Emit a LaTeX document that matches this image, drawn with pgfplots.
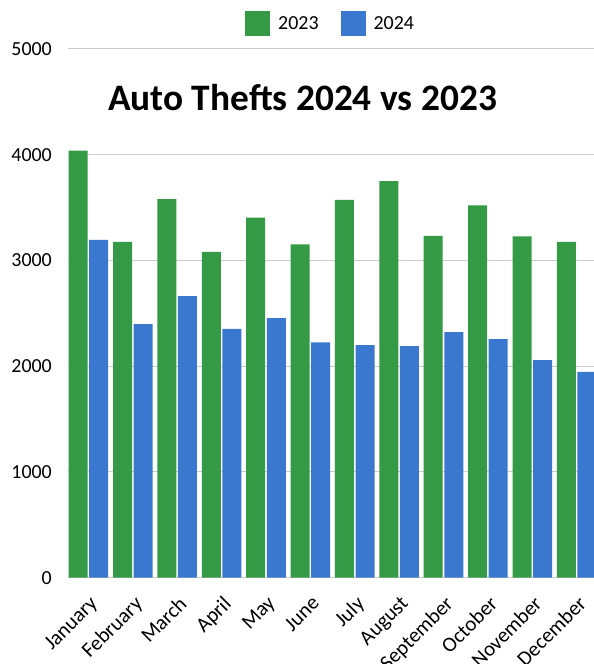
\documentclass[border=0pt]{standalone}
\usepackage{fontspec}
\setmainfont{Carlito}
\usepackage{pgfplots}
\pgfplotsset{compat=1.18}
\definecolor{g23}{RGB}{52,154,69}
\definecolor{b24}{RGB}{58,120,208}
\definecolor{gridc}{RGB}{204,204,204}
\begin{document}
\begin{tikzpicture}
\begin{axis}[
  name=ax, scale only axis, width=526bp, height=528.7bp,
  ybar=1.6bp, bar width=19bp,
  xmin=-0.46, xmax=11.39, ymin=0, ymax=5000,
  axis line style={draw=none},
  ymajorgrids, major grid style={gridc, line width=1bp},
  major tick length=0pt, tick style={draw=none},
  xtick={0,...,11},
  xticklabels={January,February,March,April,May,June,July,August,September,October,November,December},
  ytick={0,1000,2000,3000,4000,5000},
  scaled y ticks=false,
  /pgf/number format/assume math mode=true,
  /pgf/number format/1000 sep={},
  yticklabel style={font=\fontsize{20}{24}\selectfont, anchor=east, inner sep=0pt, xshift=-16bp},
  xticklabel style={font=\fontsize{21}{25}\selectfont, xshift=0.5bp, yshift=-17bp, rotate=45, anchor=north east, inner sep=0pt},
  legend style={draw=none, fill=none, at={(0.3365,1.048)}, anchor=west, legend columns=2, inner sep=0pt,
    font=\fontsize{20}{24}\selectfont,
    /tikz/every odd column/.append style={column sep=8bp},
    /tikz/every even column/.append style={column sep=22bp},
    nodes={inner sep=0pt}},
  legend image code/.code={\fill[#1] (0bp,-12.5bp) rectangle (25bp,12.5bp);},
]
\addplot[fill=g23, draw=none] coordinates {
(0,4040) (1,3175) (2,3580) (3,3081) (4,3406) (5,3153)
(6,3573) (7,3751) (8,3232) (9,3520) (10,3229) (11,3175)};
\addplot[fill=b24, draw=none] coordinates {
(0,3195) (1,2398) (2,2664) (3,2354) (4,2455) (5,2225)
(6,2199) (7,2190) (8,2322) (9,2256) (10,2057) (11,1946)};
\legend{2023,2024}
\node[font=\fontsize{37.5}{40}\selectfont\bfseries, anchor=base] at (axis cs:4.824,4423) {Auto Thefts 2024 vs 2023};
\end{axis}
\pgfresetboundingbox
\path[use as bounding box] ([shift={(-68bp,-86.3bp)}]ax.south west) rectangle ([shift={(526bp,577.7bp)}]ax.south west);
\end{tikzpicture}
\end{document}
